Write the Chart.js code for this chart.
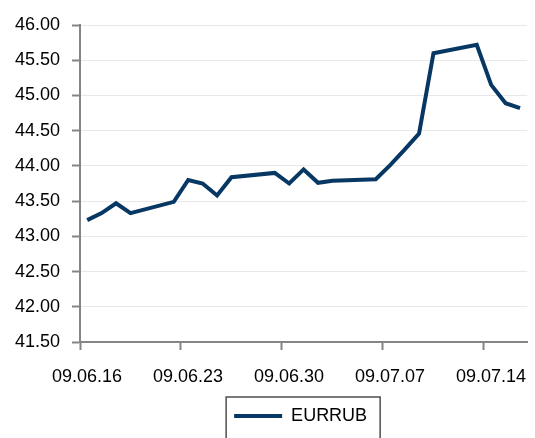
<!DOCTYPE html>
<html><head><meta charset="utf-8">
<script src="https://cdn.jsdelivr.net/npm/chart.js@4.4.1/dist/chart.umd.min.js"></script>
<style>html,body{margin:0;padding:0;background:#fff;}#wrap{width:535px;height:438px;position:relative;}</style>
</head><body><div id="wrap"><canvas id="c" width="535" height="438"></canvas></div>
<script>
const seriesName = 'EURRUB';
const dates = [
  '2009-06-16','2009-06-17','2009-06-18','2009-06-19',
  '2009-06-22','2009-06-23','2009-06-24','2009-06-25','2009-06-26',
  '2009-06-29','2009-06-30','2009-07-01','2009-07-02','2009-07-03',
  '2009-07-06','2009-07-07','2009-07-08','2009-07-09','2009-07-10',
  '2009-07-13','2009-07-14','2009-07-15','2009-07-16'
];
const values = [
  43.23, 43.33, 43.47, 43.33,
  43.49, 43.80, 43.75, 43.58, 43.84,
  43.90, 43.75, 43.95, 43.76, 43.79,
  43.81, 44.01, 44.23, 44.46, 45.60,
  45.72, 45.15, 44.89, 44.82
];
const axisStart = '2009-06-16';
const axisEnd = '2009-07-17';
const tickLabels = ['09.06.16','09.06.23','09.06.30','09.07.07','09.07.14'];
const tickDays = [0, 7, 14, 21, 28];
const yMin = 41.5, yMax = 46, yStep = 0.5;

function dayIndex(s){
  return (Date.parse(s + 'T00:00:00Z') - Date.parse(axisStart + 'T00:00:00Z')) / 86400000;
}
// each date occupies one day cell on the axis; the value sits in the middle of its cell
const points = dates.map((d, i) => ({x: dayIndex(d) + 0.5, y: values[i]}));

const FONT = {family: "'Liberation Sans', Arial, sans-serif", size: 18};
const LINE = '#073763';
const AXIS = '#858585';

const legendShift = {
  id: 'legendShift',
  afterLayout(chart) {
    const l = chart.legend;
    if (l) { l.left -= 3; l.right -= 3; }
  }
};
const legendBorder = {
  id: 'legendBorder',
  afterDraw(chart) {
    const l = chart.legend;
    if (!l || !l.legendHitBoxes || !l.legendHitBoxes.length) return;
    const hb = l.legendHitBoxes[0];
    const ctx = chart.ctx;
    ctx.save();
    ctx.strokeStyle = '#4d4d4d';
    ctx.lineWidth = 1.5;
    ctx.strokeRect(hb.left - 8, hb.top - 10, hb.width + 21, 80);
    ctx.restore();
  }
};

new Chart(document.getElementById('c'), {
  type: 'line',
  data: {
    datasets: [{
      label: seriesName,
      data: points,
      borderColor: LINE,
      backgroundColor: LINE,
      borderWidth: 4,
      pointRadius: 0,
      tension: 0,
      fill: false
    }]
  },
  options: {
    responsive: false,
    animation: false,
    devicePixelRatio: 1,
    layout: {padding: {top: 25, right: 0, bottom: 3, left: 0}},
    plugins: {
      tooltip: {enabled: false},
      legend: {
        position: 'bottom',
        fullSize: false,
        labels: {
          font: FONT,
          color: '#000',
          usePointStyle: true,
          pointStyle: 'line',
          pointStyleWidth: 48,
          padding: 10
        }
      }
    },
    scales: {
      x: {
        type: 'linear',
        min: dayIndex(axisStart),
        max: dayIndex(axisEnd),
        afterBuildTicks(scale) { scale.ticks = tickDays.map(v => ({value: v})); },
        afterFit(scale) { scale.height = 55; },
        grid: {drawOnChartArea: false, drawTicks: true, tickLength: 8, tickColor: AXIS, tickWidth: 2},
        border: {display: true, color: AXIS, width: 2},
        ticks: {
          font: FONT, color: '#000', padding: 16, maxRotation: 0, autoSkip: false, labelOffset: 7,
          callback: (v) => { const i = tickDays.indexOf(v); return i >= 0 ? tickLabels[i] : ''; }
        }
      },
      y: {
        min: yMin,
        max: yMax,
        afterFit(scale) { scale.width = 80; },
        grid: {color: '#e8e8e8', lineWidth: 1, drawTicks: true, tickLength: 8, tickColor: AXIS, tickWidth: 2},
        border: {display: true, color: AXIS, width: 2},
        ticks: {
          font: FONT, color: '#000', padding: 12, stepSize: yStep,
          callback: (v) => Number(v).toFixed(2)
        }
      }
    }
  },
  plugins: [legendShift, legendBorder]
});
</script>
</body></html>
